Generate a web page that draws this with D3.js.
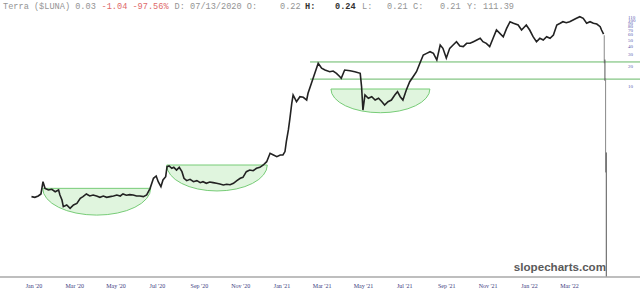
<!DOCTYPE html>
<html><head><meta charset="utf-8">
<script src="https://cdn.jsdelivr.net/npm/d3@7"></script>
<style>body{margin:0;background:#fff}svg{display:block}</style>
</head><body>
<script>
// ---- data (day offsets from 2020-01-01, closing prices in USD) ----
const baseDate = new Date(2020, 0, 1);
const days = [-3,2,7,11,14,17,22,27,32,37,39,42,44,49,54,59,64,69,73,78,83,88,93,98,103,108,113,118,123,128,132,137,142,147,152,157,162,167,172,177,181,184,188,191,195,197,200,204,207,211,215,219,222,226,231,236,241,246,250,255,260,265,270,275,280,285,290,295,300,305,309,314,319,324,329,334,339,344,349,354,359,364,368,371,373,376,378,381,383,388,393,398,403,405,410,415,420,425,430,437,442,447,452,454,459,467,474,482,484,486,489,494,499,504,509,514,518,523,528,533,537,541,545,550,555,560,565,570,575,580,585,590,595,600,604,609,614,619,624,629,634,639,644,649,654,659,663,668,673,678,683,688,693,698,703,708,715,720,727,732,737,742,747,752,757,762,767,772,777,781,786,791,796,801,806,811,816,821,826,831,836,838,841];
const closes = [0.216,0.211,0.221,0.237,0.363,0.288,0.272,0.279,0.256,0.272,0.229,0.192,0.153,0.162,0.144,0.162,0.171,0.204,0.216,0.237,0.221,0.229,0.221,0.211,0.221,0.211,0.216,0.221,0.229,0.221,0.237,0.227,0.232,0.229,0.221,0.221,0.216,0.229,0.288,0.408,0.442,0.363,0.305,0.385,0.431,0.610,0.625,0.577,0.597,0.544,0.597,0.513,0.408,0.376,0.394,0.363,0.376,0.351,0.363,0.343,0.359,0.351,0.343,0.335,0.324,0.332,0.327,0.343,0.376,0.408,0.422,0.513,0.544,0.531,0.577,0.597,0.647,0.726,0.971,0.915,0.863,0.915,0.915,1.03,1.45,2.18,3.08,5.49,7.32,5.81,6.90,6.76,6.15,7.76,11.0,15.5,22.0,18.5,17.4,16.4,16.8,15.5,13.8,13.1,17.4,17.0,16.4,15.5,9.76,4.35,7.32,6.53,6.90,6.15,6.53,5.81,5.18,5.81,6.15,7.32,8.21,6.90,6.15,8.71,11.6,13.8,16.4,22.0,29.3,31.0,32.8,31.0,24.6,41.4,36.9,26.4,36.9,41.4,46.4,40.0,39.1,43.9,43.9,46.4,49.2,52.2,46.4,43.9,39.1,52.2,69.6,62.1,55.2,73.8,92.9,87.9,82.8,69.6,82.8,69.6,55.2,46.4,52.2,49.2,55.2,52.2,58.6,82.8,87.9,92.9,89.7,92.9,98.4,104.5,110.5,104.5,87.9,92.9,87.9,85.7,78.1,69.6,60.6];
// crash days drawn as high-low bars
const crashDays = [842, 843, 844, 845];
const crashHigh = [58, 25, 13, 1.0];
const crashLow  = [22, 12, 0.5, 0.0001];
// horizontal resistance lines
const levelStartDay = 408;
const levels = [23.0, 12.7];
// cup patterns: start day, end day, rim price, bottom price
const cupStart = [13.6, 196.5, 438.8];
const cupEnd   = [172.9, 344.9, 584.8];
const cupRim   = [0.288, 0.647, 9.01];
const cupBase  = [0.114, 0.263, 3.96];
// axes
const yTicks = [10,20,30,40,50,60,70,80,90,100,110];
const xTickDates = d3.timeMonth.range(new Date(2020,0,1), new Date(2022,3,1), 2);
// header
const header = [
  {t:"Terra ($LUNA) 0.03", x:3, c:"#949494", b:false},
  {t:"-1.04 -97.56%", x:101.5, c:"#e06a6a", b:false},
  {t:"D: 07/13/2020 O:", x:174.6, c:"#949494", b:false},
  {t:"0.22", x:280, c:"#949494", b:false},
  {t:"H:", x:305, c:"#333", b:true},
  {t:"0.24", x:335, c:"#333", b:true},
  {t:"L:", x:362, c:"#949494", b:false},
  {t:"0.21", x:387, c:"#949494", b:false},
  {t:"C:", x:413, c:"#949494", b:false},
  {t:"0.21", x:440, c:"#949494", b:false},
  {t:"Y:", x:467, c:"#949494", b:false},
  {t:"111.39", x:483, c:"#949494", b:false}
];

const W = 640, H = 299;
const svg = d3.select("body").append("svg").attr("width", W).attr("height", H);
const x = d3.scaleTime().domain([new Date(2020,0,1), new Date(2022,2,1)]).range([33.5, 569]);
const xd = d => x(baseDate) + (x(new Date(2022,2,1)) - x(baseDate)) * d / 790;
const y = d3.scaleLog().domain([10, 20]).range([86, 66]);

svg.append("clipPath").attr("id","plot").append("rect").attr("x",0).attr("y",12).attr("width",W).attr("height",265);
const plot = svg.append("g").attr("clip-path","url(#plot)");

// cups
cupStart.forEach((s,i) => {
  const x0 = xd(s), x1 = xd(cupEnd[i]), yt = y(cupRim[i]), yb = y(cupBase[i]);
  const rx = (x1-x0)/2, ry = yb-yt;
  plot.append("path")
    .attr("d", `M${x0},${yt} L${x1},${yt} A${rx},${ry} 0 0 1 ${x0},${yt} Z`)
    .attr("fill","#ccefc8").attr("fill-opacity",0.6)
    .attr("stroke","#77cc77").attr("stroke-width",1);
});

// levels
levels.forEach(v => {
  plot.append("line").attr("x1", xd(levelStartDay)).attr("x2", W)
    .attr("y1", y(v)).attr("y2", y(v)).attr("stroke","#66b866").attr("stroke-width",1);
});

// price line
const pts = days.map((d,i) => [xd(d), y(closes[i])]);
plot.append("path").attr("d", d3.line()(pts))
  .attr("fill","none").attr("stroke","#222").attr("stroke-width",1.6).attr("stroke-linejoin","miter");

// crash bars
crashDays.forEach((d,i) => {
  plot.append("line").attr("x1", xd(d)).attr("x2", xd(d))
    .attr("y1", y(crashHigh[i])).attr("y2", y(crashLow[i]))
    .attr("stroke", i % 2 ? "#555" : "#888").attr("stroke-width",1);
});

// bottom border
svg.append("line").attr("x1",0).attr("x2",W).attr("y1",277).attr("y2",277)
  .attr("stroke","#a8a8a8").attr("stroke-width",1.5);

// watermark
svg.append("text").attr("x",606).attr("y",271).attr("text-anchor","end")
  .attr("font-family","Liberation Sans, Arial, sans-serif").attr("font-weight","bold")
  .attr("font-size",11.6).attr("fill","#5a5a5a").text("slopecharts.com");

// x axis
const xAxis = d3.axisBottom(x).tickValues(xTickDates).tickSize(0).tickPadding(3.5)
  .tickFormat(d3.timeFormat("%b '%y"));
const gx = svg.append("g").attr("transform","translate(0,280)").call(xAxis);
gx.select(".domain").remove();
gx.selectAll("text").attr("font-family","Liberation Serif, serif").attr("font-size",6).attr("fill","#3b3b80");

// y axis
const yAxis = d3.axisRight(y).tickValues(yTicks).tickSize(0).tickPadding(0).tickFormat(d3.format("d"));
const gy = svg.append("g").attr("transform","translate(628,0)").call(yAxis);
gy.select(".domain").remove();
gy.selectAll("text").attr("font-family","Liberation Serif, serif").attr("font-size",5).attr("fill","#5a5ab0");

// header
const ht = svg.append("text").attr("y",8.5).attr("font-family","Liberation Mono, Courier New, monospace").attr("font-size",8.6);
header.forEach(h => {
  ht.append("tspan").attr("x",h.x).attr("fill",h.c).attr("font-weight",h.b?"bold":"normal").text(h.t);
});
</script>
</body></html>
